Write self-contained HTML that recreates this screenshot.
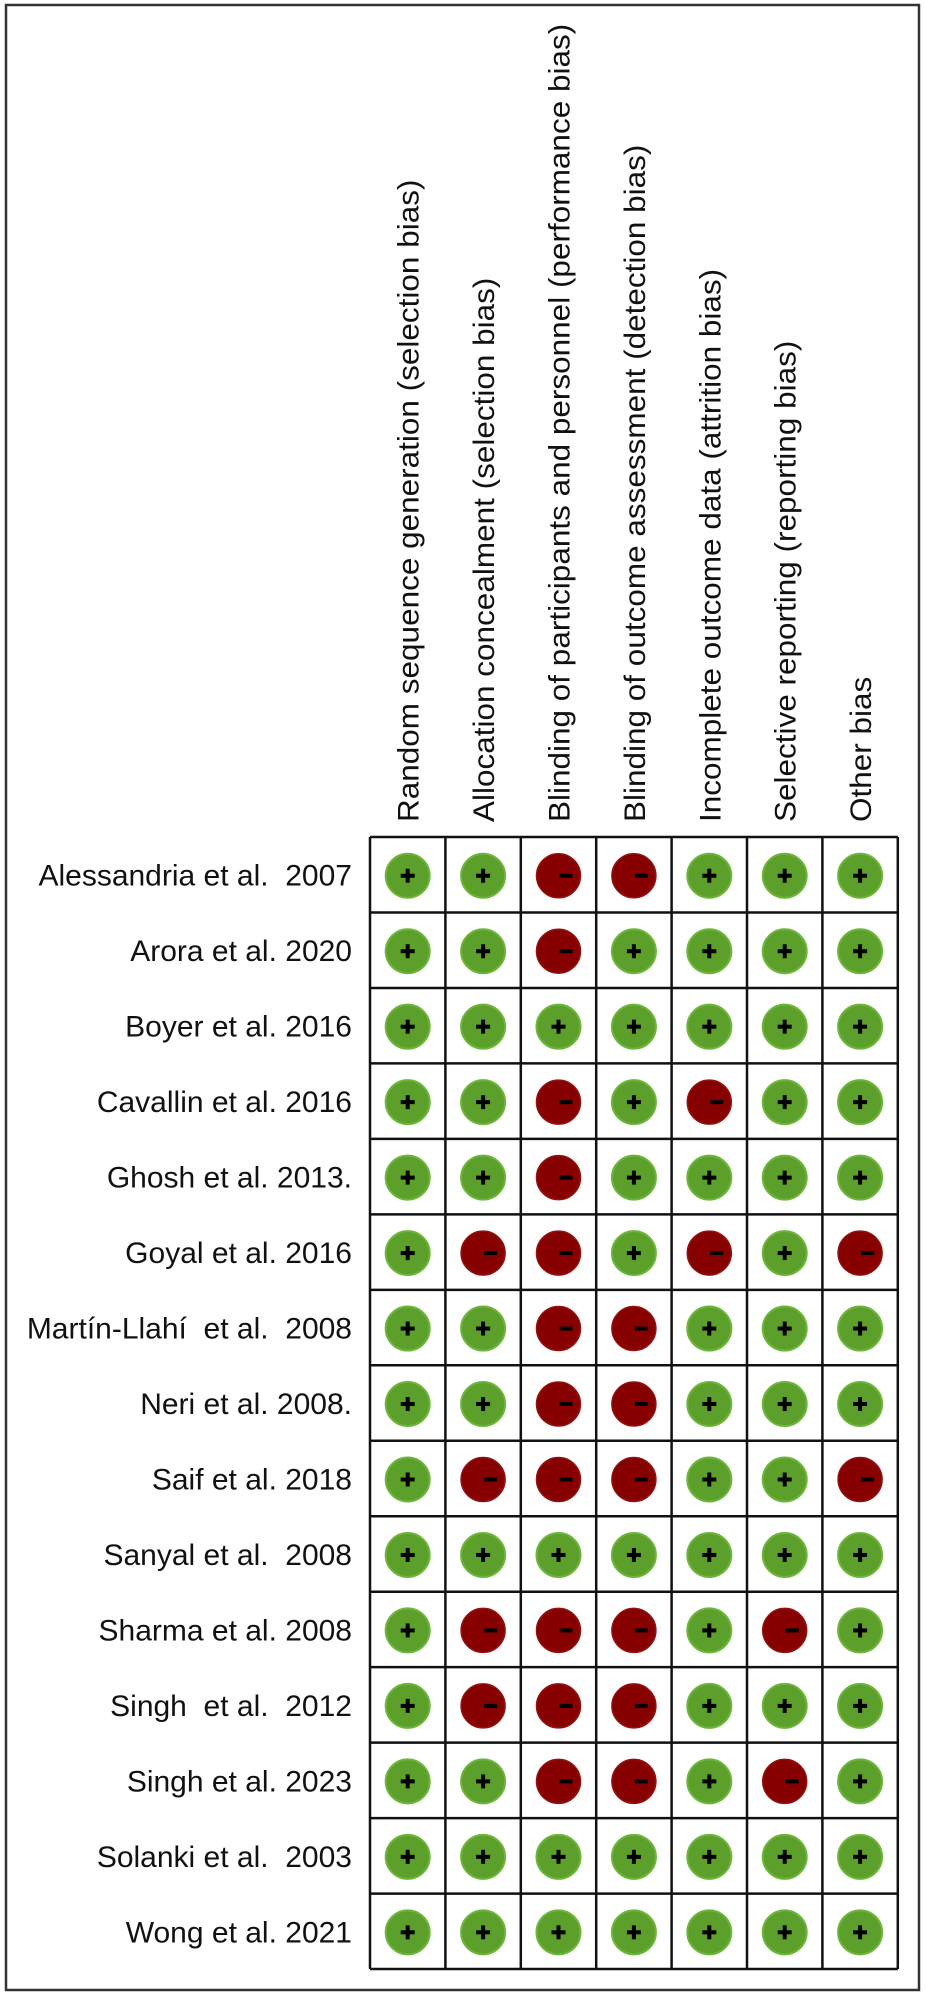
<!DOCTYPE html>
<html><head><meta charset="utf-8"><style>
html,body{margin:0;padding:0;background:#fff;}
svg{display:block;}
text{font-family:"Liberation Sans",Arial,sans-serif;font-size:30px;fill:#111;}
</style></head>
<body>
<svg id="chart" width="926" height="1997" viewBox="0 0 926 1997" xmlns="http://www.w3.org/2000/svg">
<rect x="6" y="5" width="913" height="1985" fill="#fff" stroke="#333" stroke-width="2.5"/>
<g id="headers"></g>
<g id="labels"></g>
<g id="cells"></g>
<g id="grid"></g>
</svg>
<script>
const domains = ["Random sequence generation (selection bias)","Allocation concealment (selection bias)","Blinding of participants and personnel (performance bias)","Blinding of outcome assessment (detection bias)","Incomplete outcome data (attrition bias)","Selective reporting (reporting bias)","Other bias"];
const studies = ["Alessandria et al.  2007","Arora et al. 2020","Boyer et al. 2016","Cavallin et al. 2016","Ghosh et al. 2013.","Goyal et al. 2016","Martín-Llahí  et al.  2008","Neri et al. 2008.","Saif et al. 2018","Sanyal et al.  2008","Sharma et al. 2008","Singh  et al.  2012","Singh et al. 2023","Solanki et al.  2003","Wong et al. 2021"];
const judgements = [
"++--+++",
"++-++++",
"+++++++",
"++-+-++",
"++-++++",
"+--+-+-",
"++--+++",
"++--+++",
"+---++-",
"+++++++",
"+---+-+",
"+---+++",
"++--+-+",
"+++++++",
"+++++++"
];
const NS="http://www.w3.org/2000/svg";
const gx0=370, gy0=837, cw=75.4, rh=75.47;
const xC = i => gx0 + cw*i + cw/2;
const yC = j => gy0 + rh*j + rh/2;
function mk(tag, attrs, parent){const e=document.createElementNS(NS,tag);for(const k in attrs)e.setAttribute(k,attrs[k]);parent.appendChild(e);return e;}
const H=document.getElementById('headers'), L=document.getElementById('labels'), C=document.getElementById('cells'), G=document.getElementById('grid');
domains.forEach((d,i)=>{
  const t=mk('text',{x:0,y:0,transform:`translate(${xC(i)+11},822) rotate(-90) scale(1.05,1)`},H);
  
  
  t.textContent=d;
});
studies.forEach((s,j)=>{
  const t=mk('text',{x:352,y:yC(j)+11,'text-anchor':'end'},L);
  t.style.whiteSpace='pre';
  
  
  t.textContent=s;
});
judgements.forEach((row,j)=>{
  row.split('').forEach((v,i)=>{
    const cx=xC(i), cy=yC(j)+1;
    const g=mk('g',{},C);
    
    
    if(v==='+'){
      mk('circle',{cx:cx,cy:cy,r:22,fill:'#5d9f2b',stroke:'#6cb63a','stroke-width':2},g);
      mk('rect',{x:cx-7,y:cy-2,width:14,height:4,fill:'#000'},g);
      mk('rect',{x:cx-2,y:cy-7,width:4,height:14,fill:'#000'},g);
    } else {
      mk('circle',{cx:cx,cy:cy,r:22,fill:'#870000',stroke:'#951010','stroke-width':1.5},g);
      mk('rect',{x:cx+1,y:cy-2,width:13,height:4,fill:'#000'},g);
    }
  });
});
for(let i=0;i<=domains.length;i++){
  const l=mk('line',{x1:gx0+cw*i,y1:gy0,x2:gx0+cw*i,y2:gy0+rh*studies.length,stroke:'#111','stroke-width':2.5},G);
  
  
}
for(let j=0;j<=studies.length;j++){
  const l=mk('line',{x1:gx0,y1:gy0+rh*j,x2:gx0+cw*domains.length,y2:gy0+rh*j,stroke:'#111','stroke-width':2.5},G);
  
  
}
</script>
</body></html>
